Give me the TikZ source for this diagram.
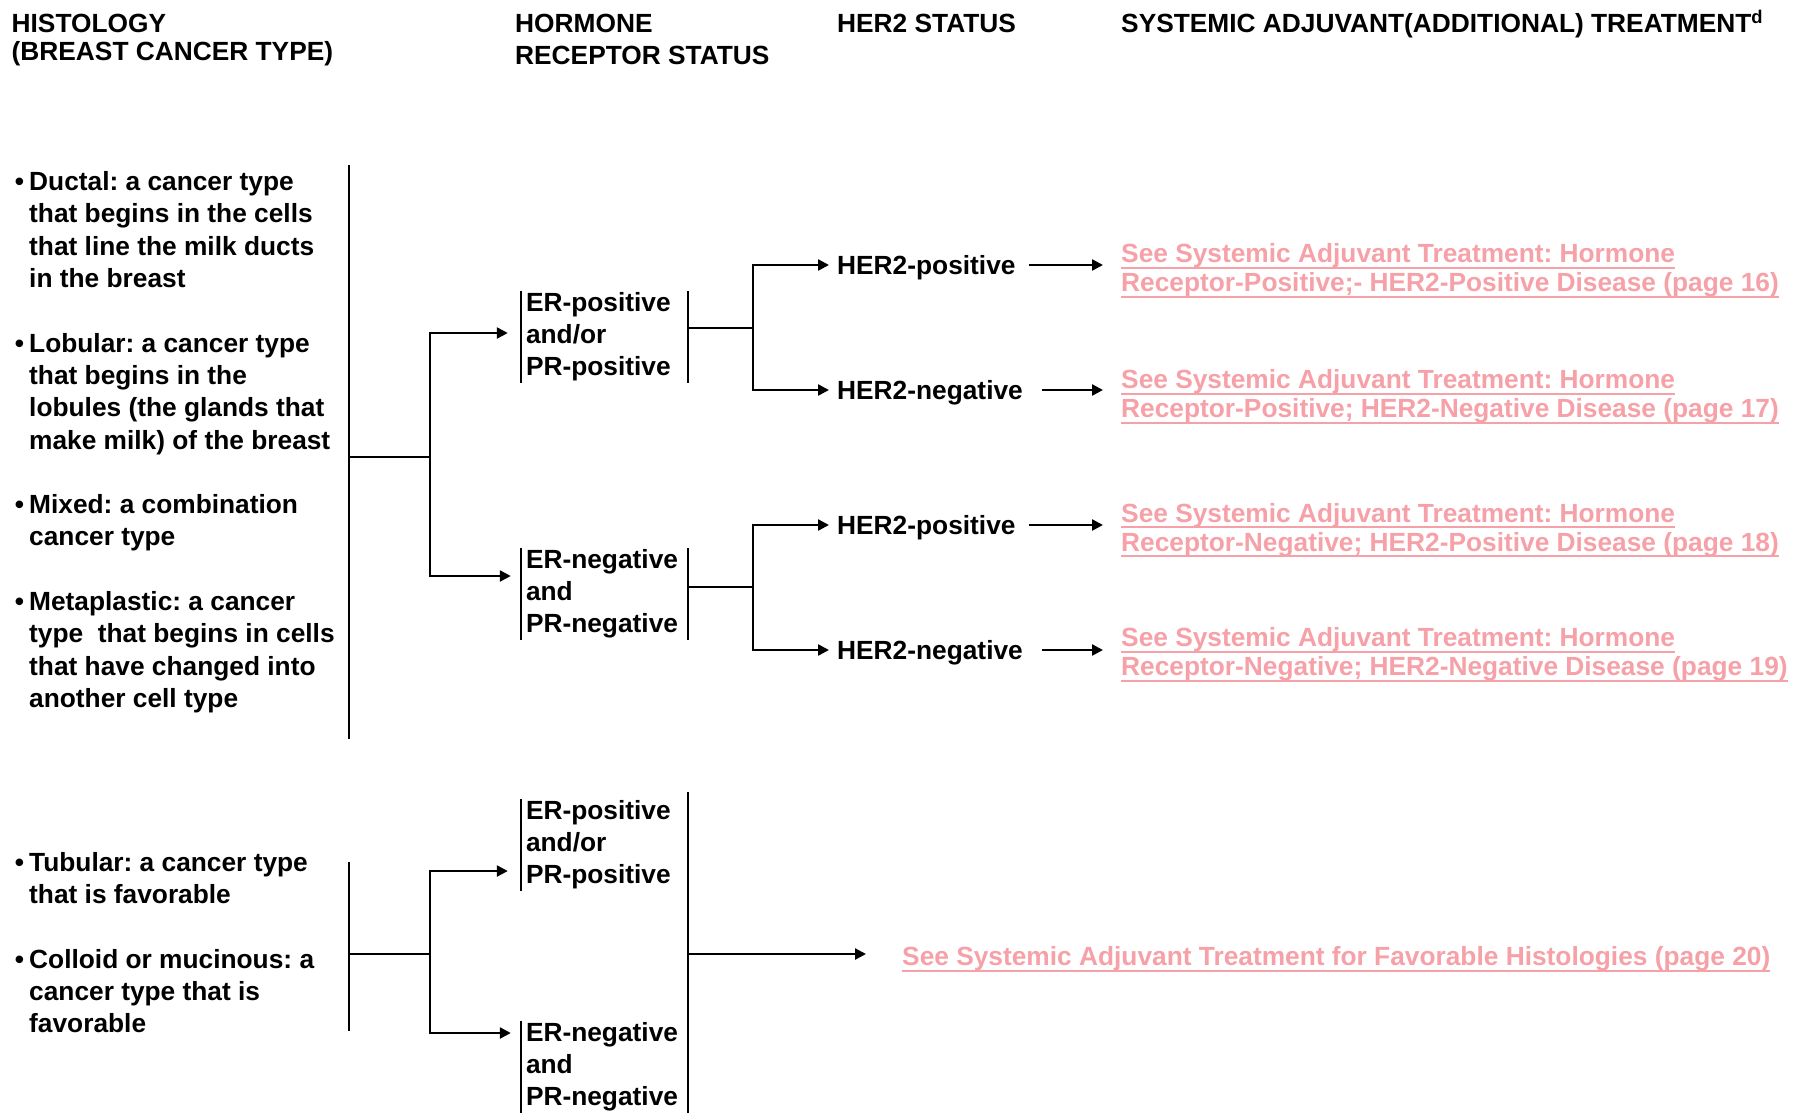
\documentclass[tikz,border=0pt]{standalone}
\usepackage{fontspec}
\setmainfont{Liberation Sans}
\usetikzlibrary{arrows.meta}
\frenchspacing
\definecolor{seepink}{RGB}{246,160,168}
\tikzstyle{every conn} = []
\tikzstyle{conn} = [draw, line width=2.4pt, >={Triangle[length=11pt,width=11pt]}, every conn]
\tikzstyle{txt} = [inner sep=0pt, anchor=north west, align=left]
\tikzstyle{head} = [txt, font=\bfseries\fontsize{26.3}{28.8}\selectfont]
\tikzstyle{status} = [inner sep=0pt, anchor=west, text height=19pt, text depth=0pt]
\tikzstyle{hrbox} = [inner xsep=5pt, inner ysep=1pt, text width=157pt, align=left]
\tikzstyle{seelink} = [txt, text=seepink, font=\bfseries\fontsize{26.3}{28.8}\selectfont]
\newcommand{\bul}{\llap{\textbullet\hspace{5pt}}}
\newcommand{\ulink}[1]{\setbox0=\hbox{#1}\rlap{\rule[-6pt]{\wd0}{2pt}}\box0}

\begin{document}
\begin{tikzpicture}[x=1pt, y=-1pt, font=\bfseries\fontsize{26.3}{32.3}\selectfont]
        \useasboundingbox (0,0) rectangle (1806,1112);

        % column heads
        \node[head] (hhist) at (11.5,13.6) {HISTOLOGY\\(BREAST CANCER TYPE)};
        \node[head, font=\bfseries\fontsize{26.3}{32.3}\selectfont] (hhorm) at (515,13.6) {HORMONE\\RECEPTOR STATUS};
        \node[head] (hher) at (837,13.6) {HER2 STATUS};
        \node[head] (hadj) at (1121,13.6) {SYSTEMIC ADJUVANT(ADDITIONAL) TREATMENT\smash{\textsuperscript{d}}};

        % histology
        \node[txt] (ductal) at (29,171.4) {\bul Ductal: a cancer type\\that begins in the cells\\that line the milk ducts\\in the breast};
        \node[txt] (lobular) at (29,332.9) {\bul Lobular: a cancer type\\that begins in the\\lobules (the glands that\\make milk) of the breast};
        \node[txt] (mixed) at (29,494.4) {\bul Mixed: a combination\\cancer type};
        \node[txt] (metapl) at (29,591.3) {\bul Metaplastic: a cancer\\type\ \ that begins in cells\\that have changed into\\another cell type};
        \node[txt] (tubular) at (29,852.1) {\bul Tubular: a cancer type\\that is favorable};
        \node[txt] (colloid) at (29,948.9) {\bul Colloid or mucinous: a\\cancer type that is\\favorable};

        % hormone receptor status
        \node[hrbox] (erpos) at (604.5,336.75) {ER-positive\\and/or\\PR-positive};
        \node[hrbox] (erneg) at (604.5,593.75) {ER-negative\\and\\PR-negative};
        \node[hrbox] (erposfav) at (604.5,844.75) {ER-positive\\and/or\\PR-positive};
        \node[hrbox] (ernegfav) at (604.5,1066.75) {ER-negative\\and\\PR-negative};

        % her2 status
        \node[status] (ppos) at (837,265) {HER2-positive};
        \node[status] (pneg) at (837,390) {HER2-negative};
        \node[status] (npos) at (837,525) {HER2-positive};
        \node[status] (nneg) at (837,650) {HER2-negative};

        % treatment
        \node[seelink] (link1) at (1121,243.6) {\ulink{See Systemic Adjuvant Treatment: Hormone}\\\ulink{Receptor-Positive;- HER2-Positive Disease (page 16)}};
        \node[seelink] (link2) at (1121,369.5) {\ulink{See Systemic Adjuvant Treatment: Hormone}\\\ulink{Receptor-Positive; HER2-Negative Disease (page 17)}};
        \node[seelink] (link3) at (1121,503.1) {\ulink{See Systemic Adjuvant Treatment: Hormone}\\\ulink{Receptor-Negative; HER2-Positive Disease (page 18)}};
        \node[seelink] (link4) at (1121,627.5) {\ulink{See Systemic Adjuvant Treatment: Hormone}\\\ulink{Receptor-Negative; HER2-Negative Disease (page 19)}};
        \node[seelink] (favlink) at (902,946.6) {\ulink{See Systemic Adjuvant Treatment for Favorable Histologies (page 20)}};

        % brackets and forks
        \coordinate (b1top) at (349,165);
        \coordinate (b1bot) at (349,739);
        \coordinate (b1mid) at (349,457);
        \coordinate (f1a) at (430,333);
        \coordinate (f1b) at (430,576);
        \coordinate (s2) at (753,328);
        \coordinate (s3) at (753,587);
        \coordinate (b2top) at (349,862);
        \coordinate (b2bot) at (349,1031);
        \coordinate (b2mid) at (349,954);
        \coordinate (f2a) at (430,871);
        \coordinate (f2b) at (430,1033);

        \draw[conn] (b1top) -- (b1bot);
        \draw[conn] (b1mid) -- (b1mid -| f1a);
        \draw[conn, <->, shorten <=13pt, shorten >=10pt] (f1a -| erpos.west) -- (f1a) -- (f1b) -- (f1b -| erneg.west);

        \foreach \b in {erpos,erneg,erposfav,ernegfav}
            \draw[conn] (\b.north west) -- (\b.south west);
        \foreach \b in {erpos,erneg}
            \draw[conn] (\b.north east) -- (\b.south east);

        \draw[conn] (erpos.east |- s2) -- (s2);
        \draw[conn, <->, shorten <=8pt, shorten >=8pt] (ppos.west) -- (ppos.west -| s2) -- (pneg.west -| s2) -- (pneg.west);
        \draw[conn] (erneg.east |- s3) -- (s3);
        \draw[conn, <->, shorten <=8pt, shorten >=8pt] (npos.west) -- (npos.west -| s3) -- (nneg.west -| s3) -- (nneg.west);

        \draw[conn, ->, shorten <=13pt, shorten >=18pt] (ppos.east) -- (ppos.east -| link1.west);
        \draw[conn, ->, shorten <=19pt, shorten >=18pt] (pneg.east) -- (pneg.east -| link2.west);
        \draw[conn, ->, shorten <=13pt, shorten >=18pt] (npos.east) -- (npos.east -| link3.west);
        \draw[conn, ->, shorten <=19pt, shorten >=18pt] (nneg.east) -- (nneg.east -| link4.west);

        % favorable histologies
        \draw[conn] (b2top) -- (b2bot);
        \draw[conn] (b2mid) -- (b2mid -| f2a);
        \draw[conn, <->, shorten <=13pt, shorten >=10pt] (f2a -| erposfav.west) -- (f2a) -- (f2b) -- (f2b -| ernegfav.west);
        \draw[conn] ([yshift=7pt]erposfav.north east) -- (ernegfav.south east);
        \draw[conn, ->, shorten >=36pt] (erposfav.east |- b2mid) -- (b2mid -| favlink.west);
\end{tikzpicture}
\end{document}
